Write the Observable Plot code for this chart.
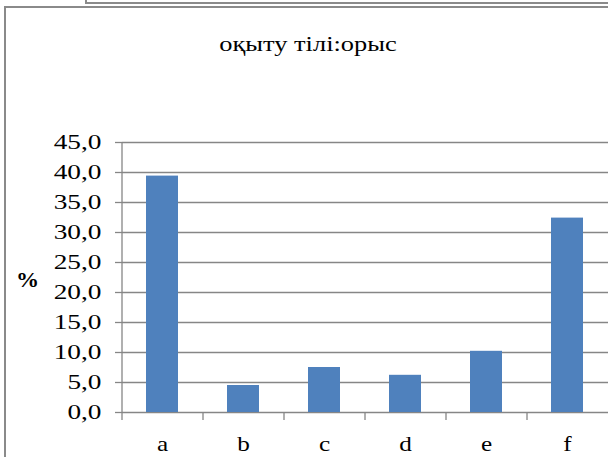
<!DOCTYPE html>
<html>
<head>
<meta charset="utf-8">
<script src="https://cdn.jsdelivr.net/npm/d3@7"></script>
<script src="https://cdn.jsdelivr.net/npm/@observablehq/plot@0.6"></script>
<style>
  html, body { margin: 0; padding: 0; background: #fff; }
  #wrap { position: relative; width: 608px; height: 457px; overflow: hidden; font-family: 'Liberation Serif', serif; }
  .ln { position: absolute; background: #8a8a8a; }
  #title { position: absolute; left: 0; width: 616px; top: 31px; text-align: center; font-family: 'Liberation Serif', serif; font-size: 22px; transform: scaleX(1.2); transform-origin: 308px 0; white-space: nowrap; }
  #ylab { position: absolute; left: 16px; top: 268px; font-family: 'Liberation Serif', serif; font-size: 21px; font-weight: bold; transform: scaleX(1.1); transform-origin: 0 0; }
  #chart { position: absolute; left: 0; top: 0; }
  #chart svg text { font-family: 'Liberation Serif', serif; }
</style>
</head>
<body>
<div id="wrap">
  <div id="chart"></div>
  <div class="ln" style="left:85px;top:0;width:2px;height:4px"></div>
  <div class="ln" style="left:85px;top:2px;width:523px;height:2px"></div>
  <div class="ln" style="left:4px;top:6px;width:2px;height:451px"></div>
  <div class="ln" style="left:4px;top:6px;width:604px;height:2px"></div>
  <div id="title"></div>
  <div id="ylab"></div>
</div>
<script>
const titleText = "оқыту тілі:орыс";
const yLabel = "%";
const categories = ["a", "b", "c", "d", "e", "f"];
const values = [39.4, 4.5, 7.5, 6.2, 10.2, 32.4];
const yTicks = [0, 5, 10, 15, 20, 25, 30, 35, 40, 45];

document.getElementById("title").textContent = titleText;
document.getElementById("ylab").textContent = yLabel;

const data = categories.map((c, i) => ({cat: c, val: values[i]}));
const W = 608, ML = 122, MR = 0;
const step = (W - ML - MR) / categories.length;
const grid = "#868686";
const fmt = d => d.toFixed(1).replace(".", ",");

const svg = Plot.plot({
  width: W,
  height: 457,
  marginTop: 142,
  marginBottom: 45,
  marginLeft: ML,
  marginRight: MR,
  style: {fontFamily: "'Liberation Serif', serif", fontSize: "21px", color: "black", background: "transparent"},
  x: {domain: categories, paddingInner: 0.6, paddingOuter: 0.3},
  y: {domain: [0, 45]},
  marks: [
    Plot.ruleY(yTicks, {stroke: grid, strokeWidth: 1.3, strokeOpacity: 1}),
    Plot.ruleX([categories[0]], {dx: -step / 2, stroke: grid, strokeWidth: 1.3}),
    Plot.axisY({ticks: yTicks, tickSize: 7, tickPadding: 14, tickFormat: fmt, stroke: grid, strokeWidth: 1.3, label: null}),
    Plot.axisX({tickSize: 8, tickFormat: () => "", dx: -step / 2, stroke: grid, strokeWidth: 1.3, label: null}),
    Plot.axisX({tickSize: 0, tickPadding: 23, fontSize: 22, label: null}),
    Plot.barY(data, {x: "cat", y: "val", fill: "#4F81BD"})
  ]
});
document.getElementById("chart").appendChild(svg);
function stretch(sel, k) {
  svg.querySelectorAll(sel).forEach(t => {
    const len = t.getComputedTextLength();
    if (len > 0) {
      t.setAttribute("textLength", (len * k).toFixed(1));
      t.setAttribute("lengthAdjust", "spacingAndGlyphs");
    }
  });
}
stretch('g[aria-label="y-axis tick label"] text', 1.3);
stretch('g[aria-label="x-axis tick label"] text', 1.15);
</script>
</body>
</html>
